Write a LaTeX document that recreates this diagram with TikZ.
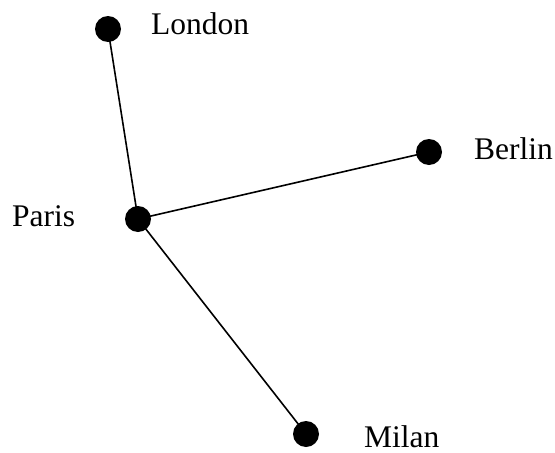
\documentclass[tikz,border=0pt]{standalone}
\usepackage{fontspec}
\setmainfont{Liberation Serif}
\begin{document}
\begin{tikzpicture}[x=1pt,y=-1pt,
  city/.style={circle,fill=black,inner sep=0pt,minimum size=26pt},
  lbl/.style={anchor=base west,inner sep=0pt,font=\fontsize{31.5}{31.5}\selectfont},
  edge/.style={line width=1.6pt}]
\useasboundingbox (0,0) rectangle (555,453);
\node[city] (london) at (108,29) {};
\node[city] (berlin) at (429,152) {};
\node[city] (paris) at (138,219) {};
\node[city] (milan) at (306,434) {};
\draw[edge] (london.center) -- (paris.center);
\draw[edge] (paris.center) -- (berlin.center);
\draw[edge] (paris.center) -- (milan.center);
\node[lbl] (tl) at (151,34) {London};
\node[lbl] (tb) at (474,159) {Berlin};
\node[lbl] (tp) at (12,226) {Paris};
\node[lbl] (tm) at (364,447) {Milan};
\end{tikzpicture}
\end{document}
